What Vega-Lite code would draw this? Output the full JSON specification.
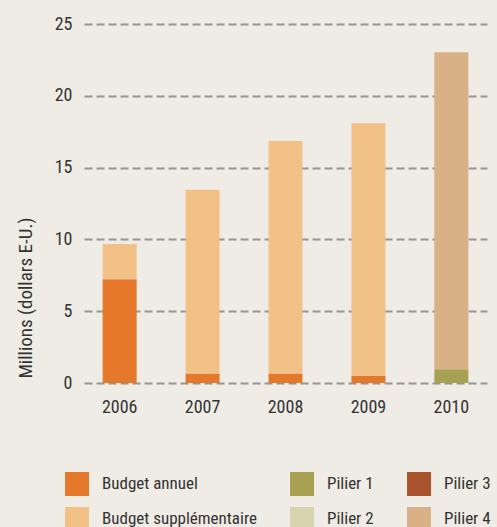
{
  "$schema": "https://vega.github.io/schema/vega-lite/v6.json",
  "autosize": {"type": "none"},
  "width": 403,
  "height": 359,
  "padding": {"left": 84, "top": 24, "right": 10, "bottom": 144},
  "background": "#efebe5",
  "config": {
    "view": {"stroke": null},
    "font": "Roboto Condensed"
  },
  "data": {
    "values": [
      {"year": "2006", "category": "Budget annuel", "value": 7.22},
      {"year": "2006", "category": "Budget supplémentaire", "value": 2.46},
      {"year": "2007", "category": "Budget annuel", "value": 0.67},
      {"year": "2007", "category": "Budget supplémentaire", "value": 12.79},
      {"year": "2008", "category": "Budget annuel", "value": 0.67},
      {"year": "2008", "category": "Budget supplémentaire", "value": 16.18},
      {"year": "2009", "category": "Budget annuel", "value": 0.49},
      {"year": "2009", "category": "Budget supplémentaire", "value": 17.59},
      {"year": "2010", "category": "Pilier 1", "value": 0.95},
      {"year": "2010", "category": "Pilier 4", "value": 22.08}
    ]
  },
  "mark": {"type": "bar"},
  "encoding": {
    "x": {
      "field": "year", "type": "nominal",
      "scale": {"paddingInner": 0.59, "paddingOuter": 0.225},
      "axis": {"title": null, "labelAngle": 0, "domain": false, "ticks": false,
               "labelPadding": 15, "labelFontSize": 18, "labelColor": "#333333"}
    },
    "y": {
      "field": "value", "type": "quantitative", "aggregate": "sum",
      "scale": {"domain": [0, 25]},
      "axis": {"title": "Millions (dollars E-U.)", "values": [0, 5, 10, 15, 20, 25],
               "domain": false, "ticks": false, "labelPadding": 12,
               "labelFontSize": 18, "labelColor": "#333333",
               "titleFontSize": 19, "titleFontWeight": "normal", "titleColor": "#333333",
               "titlePadding": 19, "titleAnchor": "start", "titleY": 354,
               "grid": true, "gridColor": "#959595", "gridWidth": 2, "gridDash": [8, 4]}
    },
    "order": {"field": "category", "type": "ordinal", "sort": "ascending"},
    "color": {
      "field": "category", "type": "nominal",
      "scale": {
        "domain": ["Budget annuel", "Budget supplémentaire", "Pilier 1", "Pilier 2", "Pilier 3", "Pilier 4"],
        "range": ["#e5782a", "#f2c187", "#a8a052", "#d8d4b0", "#a9532f", "#d9b186"]
      },
      "legend": {
        "title": null, "orient": "none", "legendX": -19, "legendY": 448,
        "columns": 3, "symbolType": "square", "symbolSize": 576,
        "symbolStrokeWidth": 0, "symbolOpacity": 1,
        "labelFontSize": 17, "labelColor": "#333333", "labelOffset": 13,
        "rowPadding": 11, "columnPadding": 33, "labelLimit": 300
      }
    }
  }
}
